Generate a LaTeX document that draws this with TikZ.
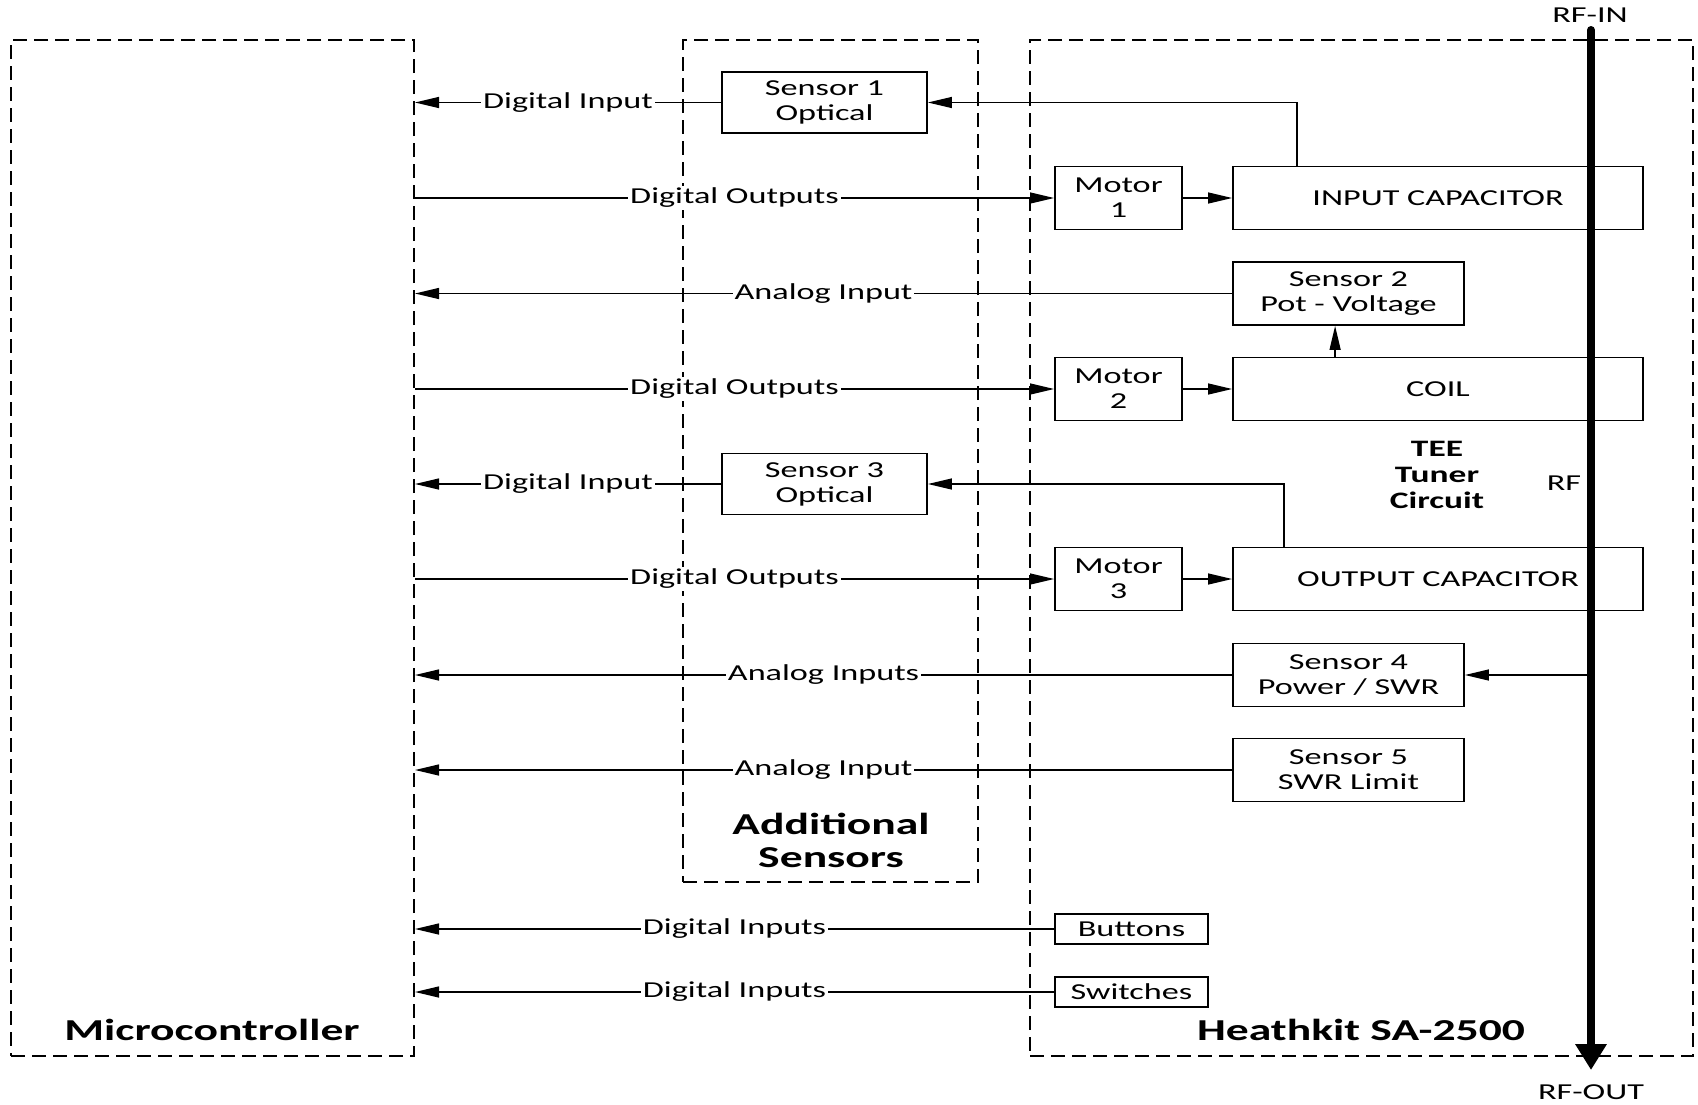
\documentclass[tikz,border=0pt]{standalone}
\usepackage{fontspec}
\setmainfont{Carlito}[FakeStretch=1.5]
\usetikzlibrary{arrows.meta}

\begin{document}
\begin{tikzpicture}[x=0.5pt,y=-0.5pt,
    group/.style ={draw, line width=1pt, dash pattern=on 7pt off 3.5pt, inner sep=0pt},
    title/.style ={font=\fontsize{15.2}{16.5}\selectfont\bfseries, align=center},
    block/.style ={draw, line width=0.9pt, align=center, inner sep=0pt, font=\fontsize{11.4}{12.5}\selectfont},
    optic/.style ={block, minimum width=102.5pt, minimum height=30.5pt},
    motor/.style ={block, minimum width=63.5pt, minimum height=31.5pt},
    part/.style ={block, minimum width=205pt, minimum height=31.5pt},
    meter/.style ={block, minimum width=115.5pt, minimum height=31.5pt},
    panel/.style ={block, minimum width=76.5pt, minimum height=15pt},
    note/.style ={font=\fontsize{11.4}{13}\selectfont, align=center},
    lbl/.style ={note, fill=white, inner sep=1pt},
    link/.style ={line width=0.65pt, -{Triangle[length=12pt,width=5.5pt]}},
    rf/.style ={line width=4pt, line cap=round, -{Triangle[length=13pt,width=15pt]}}]
   \useasboundingbox (0,0) rectangle (1698,1104);
   % dashed groups
   \node[group, minimum width=201.5pt, minimum height=508pt] (mcu) at (212.5,548) {};
   \node[group, minimum width=147.5pt, minimum height=421pt] (extra) at (830.5,461) {};
   \node[group, minimum width=331.5pt, minimum height=508pt] (tuner) at (1361.5,548) {};
   \node[title] (mcutitle) at (212,1030) {Microcontroller};
   \node[title] (extratitle) at (831,840) {Additional\\Sensors};
   \node[title] (tunertitle) at (1361,1030) {Heathkit SA-2500};
   % blocks
   \node[optic] (s1) at (824.5,102.5) {Sensor 1\\Optical};
   \node[optic] (s3) at (824.5,484) {Sensor 3\\Optical};
   \node[motor] (m1) at (1118.5,198) {Motor\\1};
   \node[motor] (m2) at (1118.5,389) {Motor\\2};
   \node[motor] (m3) at (1118.5,579) {Motor\\3};
   \node[part] (incap) at (1438,198) {INPUT CAPACITOR};
   \node[part] (coil) at (1438,389) {COIL};
   \node[part] (outcap) at (1438,579) {OUTPUT CAPACITOR};
   \node[meter] (s2) at (1348.5,293.5) {Sensor 2\\Pot - Voltage};
   \node[meter] (s4) at (1348.5,675) {Sensor 4\\Power / SWR};
   \node[meter] (s5) at (1348.5,770) {Sensor 5\\SWR Limit};
   \node[panel] (btn) at (1131.5,929) {Buttons};
   \node[panel] (sw) at (1131.5,992) {Switches};
   \node[note, font=\fontsize{11.8}{13}\selectfont\bfseries] (tee) at (1437,475) {TEE\\Tuner\\Circuit};
   \node[note] (rftext) at (1564,483) {RF};
   \node[note] (rfintext) at (1590,15) {RF-IN};
   \node[note] (rfouttext) at (1591,1092) {RF-OUT};
   \coordinate (rfin) at (1591,30);
   \coordinate (rfout) at (1591,1070);
   % signals
   \draw[link] (s1) -- (s1 -| mcu.east) node[lbl, midway] {Digital Input};
   \draw[link] (mcu.east |- m1) -- (m1) node[lbl, midway] {Digital Outputs};
   \draw[link] (s2) -- (s2 -| mcu.east) node[lbl, midway] {Analog Input};
   \draw[link] (mcu.east |- m2) -- (m2) node[lbl, midway] {Digital Outputs};
   \draw[link] (s3) -- (s3 -| mcu.east) node[lbl, midway] {Digital Input};
   \draw[link] (mcu.east |- m3) -- (m3) node[lbl, midway] {Digital Outputs};
   \draw[link] (s4) -- (s4 -| mcu.east) node[lbl, midway] {Analog Inputs};
   \draw[link] (s5) -- (s5 -| mcu.east) node[lbl, midway] {Analog Input};
   \draw[link] (btn) -- (btn -| mcu.east) node[lbl, midway] {Digital Inputs};
   \draw[link] (sw) -- (sw -| mcu.east) node[lbl, midway] {Digital Inputs};
   \draw[link] (m1) -- (incap);
   \draw[link] (m2) -- (coil);
   \draw[link] (m3) -- (outcap);
   \draw[link] ([xshift=51.5pt]coil.north west) -- ([xshift=51.5pt]s2.south west);
   \draw[link] ([xshift=32.5pt]incap.north west) |- (s1);
   \draw[link] ([xshift=26pt]outcap.north west) |- (s3);
   \draw[link] (s4 -| rfin) -- (s4);
   \draw[rf] (rfin) -- (rfout);
 \end{tikzpicture}
\end{document}
